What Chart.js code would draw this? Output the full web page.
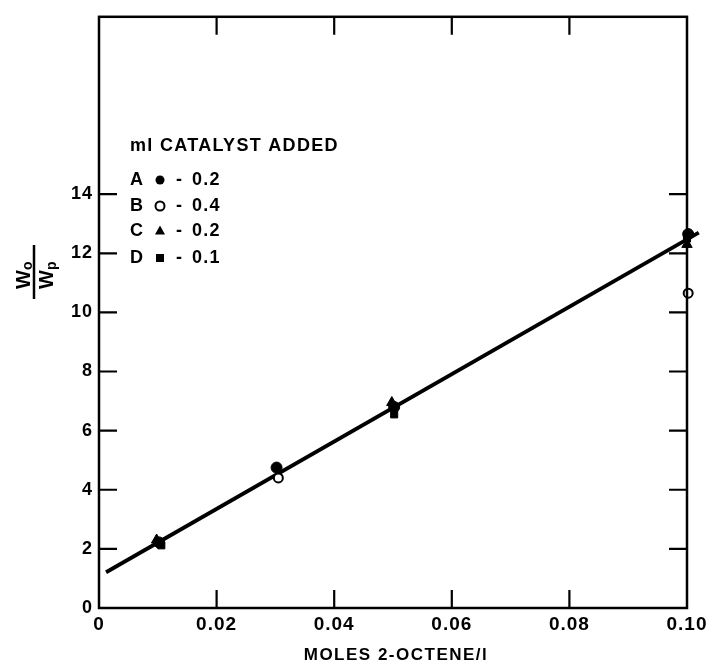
<!DOCTYPE html>
<html><head>
<meta charset="utf-8">
<script src="https://cdn.jsdelivr.net/npm/chart.js@4/dist/chart.umd.min.js"></script>
<style>html,body{margin:0;padding:0;background:#fff}#wrap{width:716px;height:668px}</style>
</head><body>
<div id="wrap"><canvas id="c"></canvas></div>
<script>
// ---- data ----
const xTicks = [0, 0.02, 0.04, 0.06, 0.08, 0.10];
const xTickLabels = ['0', '0.02', '0.04', '0.06', '0.08', '0.10'];
const yTicks = [0, 2, 4, 6, 8, 10, 12, 14];
const yTickLabels = ['0', '2', '4', '6', '8', '10', '12', '14'];

const aX = [0.0102, 0.0302, 0.0502, 0.1002];
const aY = [2.22, 4.75, 6.8, 12.65];
const bX = [0.0305, 0.1002];
const bY = [4.4, 10.65];
const cX = [0.0098, 0.0498, 0.1];
const cY = [2.3, 6.95, 12.3];
const dX = [0.0106, 0.0502, 0.1];
const dY = [2.12, 6.55, 12.5];
const fitX = [0.0012, 0.102];
const fitY = [1.21, 12.7];

const legendTitle = 'ml CATALYST ADDED';
const legendLetters = ['A', 'B', 'C', 'D'];
const legendValues = ['0.2', '0.4', '0.2', '0.1'];
const xTitle = 'MOLES 2-OCTENE/l';

const FONT = '"Liberation Sans", "Arial", sans-serif';
const pts = (xs, ys) => xs.map((x, i) => ({x: x, y: ys[i]}));

const framePlugin = {
  id: 'frame',
  beforeDraw(chart) {
    chart.ctx.letterSpacing = '1px';
  },
  afterDraw(chart) {
    const {ctx, chartArea: a, scales} = chart;
    ctx.save();
    ctx.strokeStyle = '#000';
    ctx.lineWidth = 2.5;
    ctx.strokeRect(a.left, a.top, a.right - a.left, a.bottom - a.top);
    const L = 18;
    ctx.lineWidth = 2.2;
    ctx.beginPath();
    yTicks.forEach(v => {
      if (v === 0) return;
      const y = scales.y.getPixelForValue(v);
      ctx.moveTo(a.left, y); ctx.lineTo(a.left + L, y);
      ctx.moveTo(a.right, y); ctx.lineTo(a.right - L, y);
    });
    xTicks.forEach(v => {
      if (v === 0 || v === 0.10) return;
      const x = scales.x.getPixelForValue(v);
      ctx.moveTo(x, a.bottom); ctx.lineTo(x, a.bottom - L);
      ctx.moveTo(x, a.top); ctx.lineTo(x, a.top + L);
    });
    ctx.stroke();

    ctx.fillStyle = '#000';
    ctx.textBaseline = 'middle';

    // x-axis title
    ctx.textAlign = 'center';
    ctx.letterSpacing = '1.5px';
    ctx.font = 'bold 17px ' + FONT;
    ctx.fillText(xTitle, (a.left + a.right) / 2 + 3, 655);

    // legend
    ctx.textAlign = 'left';
    ctx.letterSpacing = '1.3px';
    ctx.font = 'bold 18px ' + FONT;
    const lx = 130;
    ctx.fillText(legendTitle, lx, 146);
    const rows = [180, 206, 231, 258];
    const styles = ['circle', 'circle', 'triangle', 'rect'];
    const filled = [true, false, true, true];
    rows.forEach((ry, i) => {
      ctx.fillText(legendLetters[i], lx, ry);
      ctx.fillText('-', 176, ry);
      ctx.fillText(legendValues[i], 192, ry);
      ctx.beginPath();
      const mx = 160;
      ctx.lineWidth = 2;
      if (styles[i] === 'circle') {
        ctx.arc(mx, ry, 4.5, 0, Math.PI * 2);
      } else if (styles[i] === 'triangle') {
        ctx.moveTo(mx, ry - 5.5); ctx.lineTo(mx + 5, ry + 3.5); ctx.lineTo(mx - 5, ry + 3.5); ctx.closePath();
      } else {
        ctx.rect(mx - 4, ry - 4, 8, 8);
      }
      if (filled[i]) ctx.fill(); else ctx.stroke();
    });

    // y-axis title: fraction Wo / Wp, rotated
    ctx.save();
    ctx.letterSpacing = '0px';
    ctx.translate(34, 272);
    ctx.rotate(-Math.PI / 2);
    ctx.lineWidth = 2.5;
    ctx.beginPath(); ctx.moveTo(-27, 0); ctx.lineTo(27, 0); ctx.stroke();
    ctx.textAlign = 'left';
    ctx.textBaseline = 'alphabetic';
    ctx.font = 'bold 20px ' + FONT;
    ctx.fillText('W', -17, -4);
    ctx.fillText('W', -17, 19);
    ctx.font = 'bold 14px ' + FONT;
    ctx.fillText('o', 2, -2);
    ctx.fillText('p', 2, 22);
    ctx.restore();
    ctx.restore();
  }
};

new Chart(document.getElementById('c'), {
  type: 'scatter',
  data: {
    datasets: [
      {label: 'fit', type: 'line', data: pts(fitX, fitY), borderColor: '#000', borderWidth: 3.8,
       pointRadius: 0, fill: false, clip: false, order: 5},
      {label: 'A', data: pts(aX, aY), pointStyle: 'circle', pointRadius: 5.5, backgroundColor: '#000', borderColor: '#000', clip: false},
      {label: 'B', data: pts(bX, bY), pointStyle: 'circle', pointRadius: 4.5, backgroundColor: '#fff', borderColor: '#000', borderWidth: 2, clip: false},
      {label: 'C', data: pts(cX, cY), pointStyle: 'triangle', pointRadius: 6, backgroundColor: '#000', borderColor: '#000', clip: false},
      {label: 'D', data: pts(dX, dY), pointStyle: 'rect', pointRadius: 5, backgroundColor: '#000', borderColor: '#000', clip: false}
    ]
  },
  options: {
    responsive: true,
    maintainAspectRatio: false,
    animation: false,
    layout: {padding: {top: 13, right: 29, left: 0, bottom: 0}},
    plugins: {legend: {display: false}, tooltip: {enabled: false}},
    scales: {
      x: {
        type: 'linear', min: 0, max: 0.10,
        grid: {display: false, drawTicks: false},
        border: {display: false},
        afterBuildTicks: s => { s.ticks = xTicks.map(v => ({value: v})); },
        afterFit: s => { s.height = 60; },
        ticks: {color: '#000', font: {family: FONT, weight: 'bold', size: 19}, padding: 5,
                maxRotation: 0, autoSkip: false,
                callback: (v, i) => xTickLabels[i]},
        title: {display: false}
      },
      y: {
        type: 'linear', min: 0, max: 20,
        grid: {display: false, drawTicks: false},
        border: {display: false},
        afterBuildTicks: s => { s.ticks = yTicks.map(v => ({value: v})); },
        afterFit: s => { s.width = 99; },
        ticks: {color: '#000', font: {family: FONT, weight: 'bold', size: 18}, padding: 6, autoSkip: false,
                callback: (v, i) => yTickLabels[i]}
      }
    }
  },
  plugins: [framePlugin]
});
</script>
</body></html>
